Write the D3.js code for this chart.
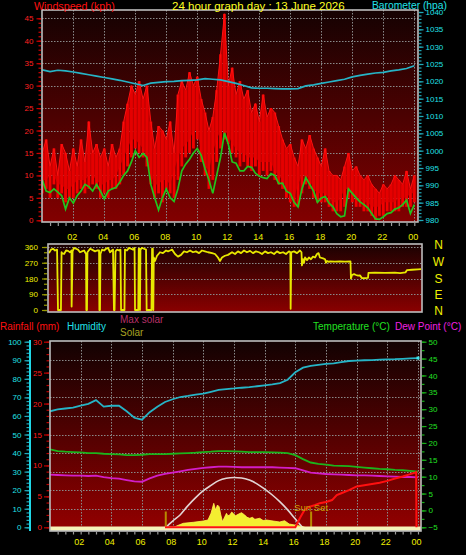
<!DOCTYPE html>
<html><head><meta charset="utf-8">
<script src="https://cdn.jsdelivr.net/npm/d3@7/dist/d3.min.js"></script>
<style>html,body{margin:0;padding:0;background:#000;overflow:hidden}svg{display:block}</style>
</head><body>
<svg id="chart" width="466" height="555"></svg>
<script>
// ---------------- DATA ----------------
const hourTicks = [2,4,6,8,10,12,14,16,18,20,22,24];
const hourLabels = ["02","04","06","08","10","12","14","16","18","20","22","00"];

// wind (kph), 15-minute samples from 0h to 24h
const windHi = [15,18,12,16,10,17,15,11, 16,12,18,13,22,15,17,14, 16,12,17,14,16,22,26,30,
  28,31,27,30,22,16,21,20, 18,22,15,28,31,29,33,30, 32,27,24,20,23,29,37,46,
  30,34,28,31,27,29,24,26, 22,28,23,25,24,21,18,16, 17,14,12,18,16,19,16,14,
  12,16,11,10,10,9,12,15, 11,12,10,9,10,8,7,6, 8,7,8,10,9,8,11,7, 10];
const windLo = [6,7,5,8,5,6,4,5, 5,6,7,6,7,8,7,5, 6,5,7,7,8,10,12,14,
  16,15,14,12,8,5,6,4, 7,6,5,9,12,14,15,16, 18,13,10,7,9,13,16,18,
  17,15,14,12,13,12,11,12, 10,11,10,11,9,8,7,5, 4,3,3,6,8,7,5,4,
  4,4,3,2,2,2,3,5, 4,3,3,2,2,1,0,1, 1,2,2,2,2,3,3,3, 4];
const windAvg = [9,6.5,6.2,7,6.3,5.5,2.5,5, 3.8,5.5,6.5,8,7.5,6.5,8,6.5, 4.8,6.5,7,7.3,8.5,10,11,13,
  15.5,14,14.9,14,8,5,2.3,5, 7,5,4.2,7,11,12.5,13.6,15, 16,14.5,11.5,9,6,10,14,19.5,
  17,13,12.7,11,11,12,11.8,10.5, 9.8,9.5,9.3,10.4,10,8.2,8.3,6.5, 6,4,3,7,9.5,8,6.5,4,
  5,5.3,3.8,3,1.5,0.8,1,7, 6,5,4.1,3.5,2.8,1.5,0.3,0.2, 0.8,1.5,1.7,2.5,2.8,3.5,4.5,1.5, 3.5];
// barometer (hPa), 30-minute samples
const baro = [1023.3,1022.8,1023.2,1023.0,1022.7,1022.3,1021.9,1021.5,1021.1,1020.7,1020.3,1019.8,
  1019.3,1018.8,1019.5,1019.7,1019.9,1020.0,1020.2,1020.3,1020.4,1020.8,1020.6,1020.4,
  1019.9,1019.4,1018.8,1018.1,1018.0,1018.0,1017.9,1017.8,1017.8,1017.9,1018.7,1019.0,
  1019.4,1019.8,1020.2,1020.6,1021.3,1021.7,1022.1,1022.4,1022.6,1023.0,1023.3,1023.7,1024.5];

// wind direction [hour, degrees]
const windDir = [[0,325],[0.13,345],[0.26,350],[0.39,340],[0.52,345],[0.58,0],[0.77,0],[0.81,330],[0.84,325],[0.97,320],
 [1.10,340],[1.23,338],[1.35,330],[1.45,340],[1.46,20],[1.52,335],[1.61,355],[1.74,350],[1.87,345],[2.00,330],
 [2.13,335],[2.26,340],[2.39,320],[2.41,0],[2.45,0],[2.48,330],[2.65,350],[2.77,345],[2.97,335],[3.10,340],
 [3.23,340],[3.25,0],[3.29,0],[3.32,320],[3.42,345],[3.55,340],[3.68,350],[3.81,355],[3.94,330],[4.06,340],
 [4.13,345],[4.19,0],[4.23,0],[4.29,335],[4.39,345],[4.52,340],[4.61,345],[4.65,0],[4.87,0],[4.90,345],
 [5.03,340],[5.16,355],[5.29,350],[5.42,345],[5.52,355],[5.55,0],[5.76,0],[5.79,350],[5.84,350],[5.87,0],
 [5.90,345],[6.00,355],[6.13,350],[6.26,345],[6.30,0],[6.61,0],[6.65,350],[6.70,350],[6.73,0],[6.76,300],
 [6.84,280],[6.97,310],[7.16,330],[7.35,325],[7.55,340],[7.68,335],[7.81,340],[7.94,345],[8.13,320],[8.32,305],
 [8.52,315],[8.71,335],[8.90,330],[9.10,340],[9.29,330],[9.48,335],[9.68,325],[9.87,340],[10.06,335],[10.26,330],
 [10.52,325],[10.71,320],[10.90,300],[11.03,280],[11.16,300],[11.35,310],[11.55,315],[11.81,330],[12.00,320],[12.19,335],
 [12.39,325],[12.58,340],[12.77,330],[12.97,338],[13.16,325],[13.35,335],[13.55,330],[13.74,320],[13.94,335],[14.13,325],
 [14.32,330],[14.52,320],[14.71,335],[14.90,325],[15.10,330],[15.29,320],[15.48,335],[15.57,330],[15.59,7],[15.63,330],
 [15.81,335],[16.00,325],[16.19,340],[16.29,330],[16.32,255],[16.39,290],[16.45,270],[16.52,300],[16.65,285],[16.77,300],
 [16.90,290],[17.03,305],[17.16,300],[17.29,320],[17.39,325],[17.48,300],[17.68,295],[17.81,290],[17.87,270],[17.94,280],
 [18.06,275],[18.13,278],[18.45,277],[18.77,278],[19.10,277],[19.45,278],[19.48,180],[19.55,200],[19.68,205],[19.81,200],
 [19.94,196],[20.06,198],[20.19,182],[20.39,182],[20.58,183],[20.61,212],[21.03,213],[21.68,212],[22.32,213],[22.65,211],
 [23.00,215],[23.10,228],[23.42,230],[23.81,232],[24.00,233]];
const dirTicks = [0,90,180,270,360];
const dirLetters = ["N","W","S","E","N"];

// bottom panel, 30-minute samples
const humidity = [62.5,63.5,64,64.5,65.5,66.5,68.5,65,65.5,65.5,62.5,59,58,62,65,67.5,69,70.2,70.8,71.5,
  72,73,74,74.5,74.8,75.2,75.5,76,76.5,77,77.7,79.5,83.5,86,87,87.5,88,88.3,89,89.6,89.8,90,90.1,90.3,90.5,90.6,90.8,91,91.2];
const temperature = [18.1,17.6,17.4,17.3,17.2,17.0,17.0,16.8,16.7,16.6,16.4,16.4,16.5,16.7,16.7,16.7,16.8,16.9,17.0,17.1,
  17.3,17.4,17.6,17.6,17.5,17.4,17.3,17.3,17.3,17.2,17.1,17.0,16.4,15.2,14.2,13.8,13.6,13.3,13.2,13.1,
  12.9,12.7,12.5,12.3,12.2,12.0,11.9,11.7,11.5];
const dewPoint = [10.6,10.5,10.4,10.3,10.3,10.2,10.3,9.9,9.6,9.4,9.0,8.6,8.5,9.5,10.3,10.8,11.2,11.6,12.0,12.3,
  12.6,12.8,13.0,13.0,12.9,12.8,12.8,12.8,12.8,12.8,12.7,12.6,12.5,11.9,11.2,11.0,10.8,10.7,10.6,10.5,
  10.4,10.4,10.3,10.2,10.1,10.0,9.9,9.9,9.8];
// rainfall [hour, mm]
const rain = [[7.5,0],[16.0,0],[16.3,1.5],[16.6,2.8],[16.9,3.3],[17.3,3.6],[17.6,3.9],[18.0,4.1],[18.4,4.4],[18.7,5.2],
  [19.0,5.5],[19.5,6.0],[20.0,6.6],[20.5,6.8],[21.0,7.0],[21.5,7.2],[22.0,7.5],[22.5,7.9],[23.0,8.2],[23.5,8.6],
  [23.88,8.9],[23.9,0]];
// solar radiation [hour, W/m2]
const solar = [[8.0,0],[8.25,37],[8.69,88],[9.34,107],[9.99,131],[10.3,150],[10.5,276],[10.68,464],[10.8,338],[10.92,432],
  [11.03,400],[11.14,244],[11.25,118],[11.4,212],[11.51,276],[11.6,230],[11.73,244],[11.85,300],[11.94,276],[12.1,230],
  [12.27,257],[12.49,288],[12.7,244],[12.85,200],[13.03,182],[13.2,200],[13.36,163],[13.68,182],[13.9,140],[14.12,150],
  [14.55,131],[14.98,113],[15.3,137],[15.6,75],[16.07,50],[16.5,25],[16.72,0]];
// theoretical max solar, every 30 min from 7.5h
const maxSolar = [0,130,250,420,570,700,800,890,935,950,940,900,830,730,620,490,340,170,0];
const sunEvents = [7.55, 17.03];

const humTicks = [0,10,20,30,40,50,60,70,80,90,100];
const rainTicks = [0,5,10,15,20,25,30];
const tempTicks = [-5,0,5,10,15,20,25,30,35,40,45,50];
const windTicks = [0,5,10,15,20,25,30,35,40,45];
const baroTicks = [980,985,990,995,1000,1005,1010,1015,1020,1025,1030,1035,1040];

// ---------------- DRAW ----------------
const FONT = '"Liberation Sans", Arial, Helvetica, sans-serif';
const svg = d3.select('#chart');
const defs = svg.append('defs');
const t15 = d3.range(windHi.length).map(i => i / 4);
const t30 = d3.range(baro.length).map(i => i / 2);

function gradient(id, c0, c1) {
  const g = defs.append('linearGradient').attr('id', id).attr('x1', 0).attr('y1', 0).attr('x2', 0).attr('y2', 1);
  g.append('stop').attr('offset', '0%').attr('stop-color', c0);
  g.append('stop').attr('offset', '100%').attr('stop-color', c1);
}
gradient('bg1', '#150202', '#820000');
gradient('bg2', '#1a0202', '#8a0000');
gradient('bg3', '#120202', '#940000');

function panel(P, gid, clipId) {
  svg.append('rect').attr('x', P.x0).attr('y', P.y0).attr('width', P.x1 - P.x0).attr('height', P.y1 - P.y0)
    .attr('fill', `url(#${gid})`);
  defs.append('clipPath').attr('id', clipId).append('rect')
    .attr('x', P.x0).attr('y', P.y0).attr('width', P.x1 - P.x0).attr('height', P.y1 - P.y0);
  return svg.append('g').attr('clip-path', `url(#${clipId})`);
}
function border(P) {
  svg.append('rect').attr('x', P.x0).attr('y', P.y0).attr('width', P.x1 - P.x0).attr('height', P.y1 - P.y0)
    .attr('fill', 'none').attr('stroke', '#bdbdbd').attr('stroke-width', 1.6);
}
const px = v => Math.round(v) + 0.5;
function hGrid(g, P, ys) {
  g.selectAll(null).data(ys).join('line')
    .attr('x1', P.x0).attr('x2', P.x1).attr('y1', d => px(d)).attr('y2', d => px(d))
    .attr('stroke', '#8a8a8a').attr('stroke-width', 1).attr('stroke-dasharray', '1.5,1.5');
}
function vGrid(g, P, xs) {
  g.selectAll(null).data(xs).join('line')
    .attr('y1', P.y0).attr('y2', P.y1).attr('x1', d => px(d)).attr('x2', d => px(d))
    .attr('stroke', '#8a8a8a').attr('stroke-width', 1).attr('stroke-dasharray', '1.5,1.5');
}
function styleAxis(g, tickColor, textColor, fs) {
  g.select('.domain').remove();
  g.attr('font-family', FONT).attr('font-size', fs);
  g.selectAll('.tick line').attr('stroke', tickColor).attr('stroke-width', 1.2);
  g.selectAll('.tick text').attr('fill', textColor);
}
function label(x, y, text, color, fs, anchor) {
  return svg.append('text').attr('x', x).attr('y', y).attr('fill', color).attr('font-size', fs)
    .attr('font-family', FONT).attr('text-anchor', anchor || 'start').text(text);
}

// ===== TOP PANEL: wind + barometer =====
const P1 = {x0: 42, x1: 418, y0: 10, y1: 222};
const xTop = d3.scaleLinear().domain([0, 24]).range([42.3, 414.3]);
const yWind = d3.scaleLinear().domain([0, 45]).range([220.3, 18.3]);
const yBaro = d3.scaleLinear().domain([980, 1040]).range([220, 12]);
const g1 = panel(P1, 'bg1', 'c1');
hGrid(g1, P1, windTicks.slice(1).map(yWind));
vGrid(g1, P1, hourTicks.map(xTop));

// gust range drawn as dense vertical bars, with the gust peaks joined
g1.selectAll(null).data(windHi).join('rect')
  .attr('x', (d, i) => xTop(t15[i]) - 1.4).attr('width', 2.8)
  .attr('y', d => yWind(d)).attr('height', (d, i) => yWind(windLo[i]) - yWind(d))
  .attr('fill', '#f20000');
g1.append('path').datum(windHi)
  .attr('d', d3.area().x((d, i) => xTop(t15[i])).y0((d, i) => yWind(Math.max(windLo[i], windLo[Math.min(i + 1, windLo.length - 1)]) + 2)).y1(d => yWind(d)))
  .attr('fill', '#e00000').attr('fill-opacity', 0.75);
g1.append('path').datum(windHi)
  .attr('d', d3.line().x((d, i) => xTop(t15[i])).y(d => yWind(d)))
  .attr('fill', 'none').attr('stroke', '#ff1010').attr('stroke-width', 1);
g1.append('path').datum(windAvg)
  .attr('d', d3.line().x((d, i) => xTop(t15[i])).y(d => yWind(d)))
  .attr('fill', 'none').attr('stroke', '#22c41e').attr('stroke-width', 1.7);
g1.append('path').datum(baro)
  .attr('d', d3.line().x((d, i) => xTop(t30[i])).y(d => yBaro(d)))
  .attr('fill', 'none').attr('stroke', '#26b4c6').attr('stroke-width', 1.7);
border(P1);

// left axis (wind)
let ax = svg.append('g').attr('transform', 'translate(41,0)')
  .call(d3.axisLeft(yWind).tickValues(d3.range(0, 46, 1)).tickSize(2.5).tickFormat(''));
styleAxis(ax, '#d00000', '#ff2020', 8);
ax = svg.append('g').attr('transform', 'translate(41,0)')
  .call(d3.axisLeft(yWind).tickValues(windTicks).tickSize(4.5).tickPadding(3).tickFormat(d3.format('d')));
styleAxis(ax, '#d00000', '#ff2020', 8);
// right axis (baro)
ax = svg.append('g').attr('transform', 'translate(419,0)')
  .call(d3.axisRight(yBaro).tickValues(d3.range(980, 1041, 1)).tickSize(2.5).tickFormat(''));
styleAxis(ax, '#20a8b8', '#20e0e8', 8);
ax = svg.append('g').attr('transform', 'translate(419,0)')
  .call(d3.axisRight(yBaro).tickValues(baroTicks).tickSize(4.5).tickPadding(2).tickFormat(d3.format('d')));
styleAxis(ax, '#20a8b8', '#20e0e8', 8);
// bottom axis of top panel
ax = svg.append('g').attr('transform', `translate(0,${P1.y1 + 1})`)
  .call(d3.axisBottom(xTop).tickValues(d3.range(0.5, 24.1, 0.5)).tickSize(3).tickFormat(''));
styleAxis(ax, '#9a9a9a', '#ff0', 9);
svg.append('g').selectAll('text').data(hourTicks).join('text')
  .attr('x', d => xTop(d) - 1).attr('y', 239.5).attr('text-anchor', 'middle')
  .attr('fill', '#f0f000').attr('font-size', 9).attr('font-family', FONT)
  .text((d, i) => hourLabels[i]);

label(34, 9.5, 'Windspeed (kph)', '#ff1010', 10.7);
label(172, 9.5, '24 hour graph day : 13 June 2026', '#ffff20', 11.5);
label(372, 8.5, 'Barometer (hpa)', '#20e0e8', 10.3);

// ===== MIDDLE PANEL: wind direction =====
const P2 = {x0: 48, x1: 422, y0: 244, y1: 312};
const xMid = d3.scaleLinear().domain([0, 24]).range([49, 421]);
const yDir = d3.scaleLinear().domain([0, 360]).range([310, 247]);
const g2 = panel(P2, 'bg2', 'c2');
hGrid(g2, P2, dirTicks.slice(1).map(yDir));
g2.append('path').datum(windDir)
  .attr('d', d3.line().x(d => xMid(d[0])).y(d => yDir(d[1])))
  .attr('fill', 'none').attr('stroke', '#e8e800').attr('stroke-width', 1.8).attr('stroke-linejoin', 'round');
border(P2);
ax = svg.append('g').attr('transform', 'translate(47,0)')
  .call(d3.axisLeft(yDir).tickValues(d3.range(0, 361, 30)).tickSize(3).tickFormat(''));
styleAxis(ax, '#9a9a00', '#f0f000', 8);
ax = svg.append('g').attr('transform', 'translate(47,0)')
  .call(d3.axisLeft(yDir).tickValues(dirTicks).tickSize(5).tickPadding(4).tickFormat(d3.format('d')));
styleAxis(ax, '#9a9a00', '#f0f000', 8);
svg.append('g').selectAll('text').data(dirTicks.slice().reverse()).join('text')
  .attr('x', 438.5).attr('y', (d, i) => [249, 265.5, 282.5, 299, 315][i]).attr('text-anchor', 'middle')
  .attr('fill', '#f0f000').attr('font-size', 12).attr('font-family', FONT)
  .text((d, i) => dirLetters[i]);

// ===== BOTTOM PANEL =====
const P3 = {x0: 50, x1: 421, y0: 341, y1: 531};
const xBot = d3.scaleLinear().domain([0, 24]).range([50, 418]);
const yHum = d3.scaleLinear().domain([0, 100]).range([527.3, 341.7]);
const yRain = d3.scaleLinear().domain([0, 30]).range([527.3, 341.7]);
const yTemp = d3.scaleLinear().domain([-5, 50]).range([527.3, 341.7]);
const ySolar = d3.scaleLinear().domain([0, 3500]).range([528, 341.7]);
const g3 = panel(P3, 'bg3', 'c3');
hGrid(g3, P3, humTicks.slice(1, 10).map(yHum));
vGrid(g3, P3, hourTicks.map(xBot));

g3.append('path').datum(solar)
  .attr('d', d3.area().x(d => xBot(d[0])).y0(ySolar(0)).y1(d => ySolar(d[1])))
  .attr('fill', '#f4ee30').attr('stroke', '#fff650').attr('stroke-width', 0.8);
g3.append('path').datum(maxSolar)
  .attr('d', d3.line().curve(d3.curveMonotoneX).x((d, i) => xBot(7.5 + i * 0.5)).y(d => ySolar(d)))
  .attr('fill', 'none').attr('stroke', '#e2d4d4').attr('stroke-width', 1.6);
g3.selectAll(null).data(sunEvents).join('rect')
  .attr('x', d => xBot(d) - 1).attr('y', 511.5).attr('width', 2).attr('height', 16.5)
  .attr('fill', '#b88a00');
g3.append('rect').attr('x', P3.x0).attr('y', 526.5).attr('width', P3.x1 - P3.x0).attr('height', 4.5)
  .attr('fill', '#f6f2b8');
g3.append('path').datum(humidity)
  .attr('d', d3.line().x((d, i) => xBot(t30[i])).y(d => yHum(d)))
  .attr('fill', 'none').attr('stroke', '#26b4c6').attr('stroke-width', 1.8);
g3.append('rect').attr('x', xBot(24) - 1.5).attr('y', yHum(humidity[humidity.length - 1]) - 1.5)
  .attr('width', 3).attr('height', 3).attr('fill', '#40e8f0');
g3.append('path').datum(temperature)
  .attr('d', d3.line().x((d, i) => xBot(t30[i])).y(d => yTemp(d)))
  .attr('fill', 'none').attr('stroke', '#1cb41c').attr('stroke-width', 1.8);
g3.append('path').datum(dewPoint)
  .attr('d', d3.line().x((d, i) => xBot(t30[i])).y(d => yTemp(d)))
  .attr('fill', 'none').attr('stroke', '#d21ec8').attr('stroke-width', 1.8);
g3.append('path').datum(rain)
  .attr('d', d3.line().x(d => xBot(d[0])).y(d => yRain(d[1])))
  .attr('fill', 'none').attr('stroke', '#ff1010').attr('stroke-width', 2);
label(294, 510.7, 'Sun Set', '#c8a000', 9.6);
border(P3);

// humidity axis (far left)
svg.append('line').attr('x1', 30).attr('x2', 30).attr('y1', 340).attr('y2', 531)
  .attr('stroke', '#20d8e8').attr('stroke-width', 2);
ax = svg.append('g').attr('transform', 'translate(29,0)')
  .call(d3.axisLeft(yHum).tickValues(d3.range(0, 101, 2)).tickSize(2.5).tickFormat(''));
styleAxis(ax, '#20a8b8', '#20e0e8', 8);
ax = svg.append('g').attr('transform', 'translate(29,0)')
  .call(d3.axisLeft(yHum).tickValues(humTicks).tickSize(4.5).tickPadding(3).tickFormat(d3.format('d')));
styleAxis(ax, '#20a8b8', '#20e0e8', 8);
// rain axis
ax = svg.append('g').attr('transform', 'translate(49,0)')
  .call(d3.axisLeft(yRain).tickValues(d3.range(0, 31, 1)).tickSize(2.5).tickFormat(''));
styleAxis(ax, '#c00000', '#ff1a1a', 8);
ax = svg.append('g').attr('transform', 'translate(49,0)')
  .call(d3.axisLeft(yRain).tickValues(rainTicks).tickSize(5).tickPadding(2).tickFormat(d3.format('d')));
styleAxis(ax, '#c00000', '#ff1a1a', 8);
// temperature axis (right)
ax = svg.append('g').attr('transform', 'translate(422,0)')
  .call(d3.axisRight(yTemp).tickValues(d3.range(-5, 50.1, 2.5)).tickSize(2.5).tickFormat(''));
styleAxis(ax, '#18b018', '#22e022', 8);
ax = svg.append('g').attr('transform', 'translate(422,0)')
  .call(d3.axisRight(yTemp).tickValues(tempTicks).tickSize(4.5).tickPadding(2).tickFormat(d3.format('d')));
styleAxis(ax, '#18b018', '#22e022', 8);
// bottom x axis
ax = svg.append('g').attr('transform', `translate(0,${P3.y1 + 1})`)
  .call(d3.axisBottom(xBot).tickValues(d3.range(0.5, 24.1, 0.5)).tickSize(2.5).tickFormat(''));
styleAxis(ax, '#9a9a9a', '#ff0', 9);
svg.append('g').selectAll('text').data(hourTicks).join('text')
  .attr('x', d => xBot(d) - 1.5).attr('y', 545).attr('text-anchor', 'middle')
  .attr('fill', '#f0f000').attr('font-size', 9).attr('font-family', FONT)
  .text((d, i) => hourLabels[i]);

// legends
label(0, 329.5, 'Rainfall (mm)', '#ff1010', 10);
label(67, 329.5, 'Humidity', '#20e0e8', 10);
label(120, 323, 'Max solar', '#b83068', 10);
label(120, 335.5, 'Solar', '#a8a020', 10);
label(313, 330, 'Temperature (°C)', '#22e022', 10);
label(395, 330, 'Dew Point (°C)', '#f020e0', 10);
</script>
</body></html>
